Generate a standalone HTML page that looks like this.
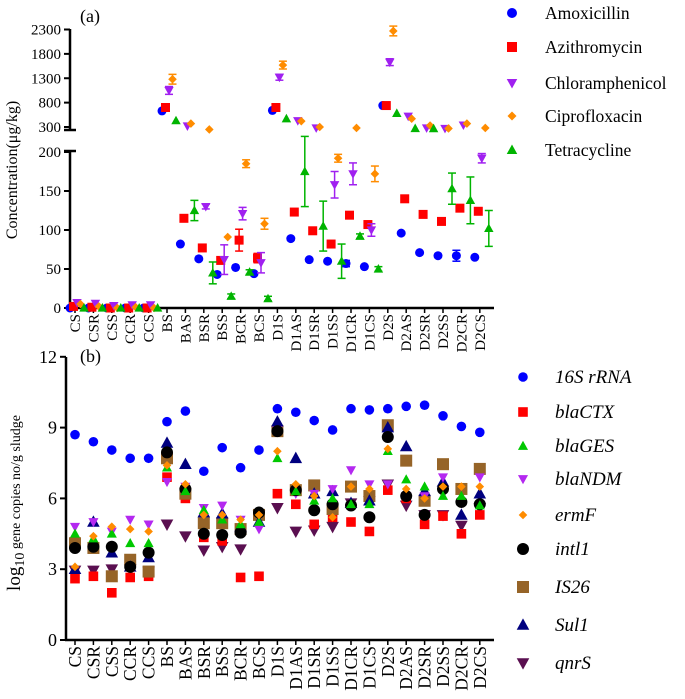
<!DOCTYPE html>
<html><head><meta charset="utf-8">
<style>
html,body{margin:0;padding:0;background:#fff;}
svg{display:block;font-family:"Liberation Serif",serif;}
</style></head>
<body>
<svg id="chart" width="685" height="699" viewBox="0 0 685 699" xmlns="http://www.w3.org/2000/svg"></svg>
<script>
const categories = ["CS","CSR","CSS","CCR","CCS","BS","BAS","BSR","BSS","BCR","BCS","D1S","D1AS","D1SR","D1SS","D1CR","D1CS","D2S","D2AS","D2SR","D2SS","D2CR","D2CS"];
// Panel (a) concentrations (ug/kg)
const amoxicillin = [0,0,0,0,0,630,82,63,43,52,44,640,89,62,60,57,53,740,96,71,67,67,65];
const azithromycin = [2,1,0,0,0,700,115,77,61,87,64,700,123,99,82,119,107,740,140,120,111,128,124];
const chloramphenicol = [7,6,3,4,4,1050,320,130,62,121,58,1320,430,280,158,172,100,1630,520,280,270,340,192];
const ciprofloxacin = [5,2,0,1,0,1280,370,250,91,185,108,1570,420,300,192,280,172,2270,470,330,270,370,280];
const tetracycline = [0,0,0,0,0,430,125,45,15,46,12,470,175,105,60,92,50,580,270,230,153,138,102];
const errChloramphenicol = [0,0,0,0,0,80,0,3,19,8,13,60,0,0,17,14,8,70,0,0,0,0,6];
const errTetracycline = [0,0,0,0,0,0,13,14,3,3,3,0,45,32,22,3,3,0,0,0,20,30,23];
const errAzithromycin = [0,0,0,0,0,0,0,0,0,14,6,0,0,0,0,0,0,0,0,0,0,0,0];
const errCiprofloxacin = [0,0,0,0,0,100,0,0,0,5,7,80,0,0,5,0,10,100,0,0,0,0,0];
const errAmoxicillin = [0,0,0,0,0,0,0,0,0,0,0,0,0,0,0,4,0,0,0,0,0,7,0];
const yTicksLower = [0,50,100,150,200];
const yTicksUpper = [300,800,1300,1800,2300];
// Panel (b) log10 gene copies
const s16S = [8.7,8.4,8.05,7.7,7.7,9.25,9.7,7.15,8.15,7.3,8.05,9.8,9.65,9.3,8.9,9.8,9.75,9.8,9.9,9.95,9.5,9.05,8.8];
const blaCTX = [2.6,2.7,2.0,2.65,2.7,6.9,6.0,4.35,4.2,2.65,2.7,6.2,5.75,4.9,5.2,5.0,4.6,6.35,6.0,4.9,5.25,4.5,5.3];
const blaGES = [4.5,4.3,4.5,4.1,4.1,7.3,6.3,5.5,5.1,4.9,5.0,7.7,6.3,5.9,6.0,5.75,5.75,8.0,6.8,6.5,6.1,6.1,5.7];
const blaNDM = [4.8,5.0,4.6,5.1,4.9,6.7,6.5,5.6,5.7,5.1,4.7,8.9,6.2,6.2,6.4,7.2,6.6,6.6,6.1,6.1,6.9,5.8,6.9];
const ermF = [3.1,4.4,4.8,4.7,4.6,7.4,6.6,5.3,5.3,5.1,5.3,8.0,6.6,6.1,5.2,6.5,6.4,8.1,6.4,6.0,6.5,6.5,6.5];
const qnrS = [2.95,2.95,3.0,3.0,2.9,4.9,4.4,3.8,3.95,3.85,5.3,5.6,4.6,4.65,4.8,5.8,5.9,6.6,5.7,5.3,5.3,4.85,5.6];
const IS26 = [4.1,3.9,2.7,3.4,2.9,7.7,6.2,4.95,4.95,4.7,5.3,8.85,6.35,6.55,5.55,6.5,6.1,9.1,7.6,5.9,7.45,6.4,7.25];
const sul1 = [3.0,5.0,3.7,3.1,3.5,8.35,7.45,5.4,5.35,4.8,5.0,9.25,7.7,6.2,6.3,5.8,5.9,9.0,8.2,6.3,6.7,5.3,6.2];
const intI1 = [3.9,3.95,3.95,3.1,3.7,7.95,6.4,4.5,4.45,4.55,5.4,8.85,6.35,5.5,5.75,5.7,5.2,8.6,6.1,5.3,6.4,5.85,5.75];
const yTicksB = [0,3,6,9,12];

const svg = document.getElementById('chart');
const NS = 'http://www.w3.org/2000/svg';
function mk(tag, attrs, parent){const e=document.createElementNS(NS,tag);for(const k in attrs)e.setAttribute(k,attrs[k]);(parent||svg).appendChild(e);return e;}
function xCat(i){return 75 + i*18.4;}
function yA(v){return v>=250 ? 127 - (v-300)*0.04875 : 308 - v*0.78;}
function yB(v){return 640 - v*23.6;}

function marker(shape, cx, cy, r, color, parent){
  let e;
  if(shape==='circle') e=mk('circle',{cx:cx,cy:cy,r:r,fill:color},parent);
  else if(shape==='square') e=mk('rect',{x:cx-r,y:cy-r,width:2*r,height:2*r,fill:color},parent);
  else if(shape==='up') e=mk('polygon',{points:`${cx},${cy-r*1.1} ${cx+r*1.05},${cy+r*0.8} ${cx-r*1.05},${cy+r*0.8}`,fill:color},parent);
  else if(shape==='down') e=mk('polygon',{points:`${cx},${cy+r*1.1} ${cx+r*1.05},${cy-r*0.8} ${cx-r*1.05},${cy-r*0.8}`,fill:color},parent);
  else if(shape==='diamond') e=mk('polygon',{points:`${cx},${cy-r} ${cx+r},${cy} ${cx},${cy+r} ${cx-r},${cy}`,fill:color},parent);
  return e;
}

// ---------- Panel A ----------
const gA = mk('g',{});


const axA = mk('g',{stroke:'#000','stroke-width':2.5,fill:'none'},gA);


mk('line',{x1:70,y1:308,x2:70,y2:151},axA);
mk('line',{x1:70,y1:130,x2:70,y2:29},axA);
mk('line',{x1:64,y1:151,x2:76,y2:151},axA);
mk('line',{x1:64,y1:130,x2:76,y2:130},axA);
mk('line',{x1:69,y1:308,x2:494,y2:308},axA);
yTicksLower.forEach(v=>{
  const y=yA(v);
  mk('line',{x1:64,y1:y,x2:70,y2:y,stroke:'#000','stroke-width':2},gA);
  const t=mk('text',{x:61,y:y+5,'text-anchor':'end','font-size':15},gA);t.textContent=v;
  
  
});
yTicksUpper.forEach(v=>{
  const y=yA(v);
  mk('line',{x1:64,y1:y,x2:70,y2:y,stroke:'#000','stroke-width':2},gA);
  const t=mk('text',{x:61,y:y+5,'text-anchor':'end','font-size':15},gA);t.textContent=v;
  
  
});
categories.forEach((c,i)=>{
  const x=xCat(i);
  mk('line',{x1:x,y1:308,x2:x,y2:313,stroke:'#000','stroke-width':1.5},gA);
  const t=mk('text',{x:0,y:0,'text-anchor':'end','font-size':15,transform:`translate(${x+5},${314}) rotate(-90)`},gA);
  t.textContent=c;
  
  
});
const ttlA=mk('text',{x:0,y:0,'text-anchor':'middle','font-size':16,transform:'translate(17,170) rotate(-90)'},gA);
ttlA.textContent='Concentration(μg/kg)';


const lblA=mk('text',{x:80,y:22,'font-size':18},gA);lblA.textContent='(a)';



const seriesA = [
  {name:'Amoxicillin',vals:amoxicillin,err:errAmoxicillin,color:'#0000ff',shape:'circle',off:-5},
  {name:'Azithromycin',vals:azithromycin,err:errAzithromycin,color:'#ff0000',shape:'square',off:-1.5},
  {name:'Chloramphenicol',vals:chloramphenicol,err:errChloramphenicol,color:'#a020f0',shape:'down',off:2},
  {name:'Ciprofloxacin',vals:ciprofloxacin,err:errCiprofloxacin,color:'#ff8c00',shape:'diamond',off:5.5},
  {name:'Tetracycline',vals:tetracycline,err:errTetracycline,color:'#00b400',shape:'up',off:9},
];
seriesA.forEach((s,si)=>{
  const g=mk('g',{},gA);
  
  
  s.vals.forEach((v,i)=>{
    const cx=xCat(i)+s.off, cy=yA(v);
    const e=s.err[i];
    if(e>0){
      const y1=yA(v+e), y2=yA(Math.max(0,v-e));
      mk('line',{x1:cx,y1:y1,x2:cx,y2:y2,stroke:s.color,'stroke-width':1.5},g);
      mk('line',{x1:cx-4,y1:y1,x2:cx+4,y2:y1,stroke:s.color,'stroke-width':1.5},g);
      mk('line',{x1:cx-4,y1:y2,x2:cx+4,y2:y2,stroke:s.color,'stroke-width':1.5},g);
    }
    const m=marker(s.shape,cx,cy,s.shape==='diamond'?4.3:4.5,s.color,g);
    
    
  });
  const ly=[13,47,83,116,150][si];
  const lg=mk('g',{},svg);
  
  
  marker(s.shape,512,ly,s.shape==='diamond'?4.5:5,s.color,lg);
  const t=mk('text',{x:545,y:ly+6,'font-size':17.5},lg);t.textContent=s.name;
});

// ---------- Panel B ----------
const gB = mk('g',{});


mk('line',{x1:66,y1:357,x2:66,y2:641,stroke:'#000','stroke-width':2.5},gB);
mk('line',{x1:65,y1:640,x2:494,y2:640,stroke:'#000','stroke-width':2.5},gB);
yTicksB.forEach(v=>{
  const y=yB(v);
  mk('line',{x1:60,y1:y,x2:66,y2:y,stroke:'#000','stroke-width':2},gB);
  const t=mk('text',{x:57,y:y+6,'text-anchor':'end','font-size':18},gB);t.textContent=v;
  
  
});
categories.forEach((c,i)=>{
  const x=xCat(i);
  mk('line',{x1:x,y1:640,x2:x,y2:645,stroke:'#000','stroke-width':1.5},gB);
  const t=mk('text',{x:0,y:0,'text-anchor':'end','font-size':17.5,transform:`translate(${x+6},${646}) rotate(-90)`},gB);
  t.textContent=c;
  
  
});
const ttlB=mk('text',{x:0,y:0,'text-anchor':'middle','font-size':14,transform:'translate(20,503) rotate(-90)'},gB);
ttlB.innerHTML='<tspan font-size="19">log</tspan><tspan font-size="14" dy="4">10</tspan><tspan dy="-4"> gene copies no/g sludge</tspan>';


const lblB=mk('text',{x:80,y:362,'font-size':18},gB);lblB.textContent='(b)';



const seriesB = [
  {name:'16S rRNA',vals:s16S,color:'#0000ff',shape:'circle',r:4.8},
  {name:'qnrS',vals:qnrS,color:'#5a0f50',shape:'down',r:6},
  {name:'blaCTX',vals:blaCTX,color:'#ff0000',shape:'square',r:4.8},
  {name:'IS26',vals:IS26,color:'#966428',shape:'square',r:6},
  {name:'Sul1',vals:sul1,color:'#00007f',shape:'up',r:6},
  {name:'blaNDM',vals:blaNDM,color:'#b428f0',shape:'down',r:4.8},
  {name:'intl1',vals:intI1,color:'#000000',shape:'circle',r:6},
  {name:'blaGES',vals:blaGES,color:'#00c800',shape:'up',r:4.8},
  {name:'ermF',vals:ermF,color:'#ff8c00',shape:'diamond',r:4.3},
];
const legendOrder=['16S rRNA','blaCTX','blaGES','blaNDM','ermF','intl1','IS26','Sul1','qnrS'];
const legendY=[377,412,446,479,515,549,587,625,663];
seriesB.forEach(s=>{
  const g=mk('g',{},gB);
  
  
  s.vals.forEach((v,i)=>{
    const m=marker(s.shape,xCat(i),yB(v),s.r,s.color,g);
    
    
  });
  const li=legendOrder.indexOf(s.name);
  const ly=legendY[li];
  const lg=mk('g',{},svg);
  
  
  marker(s.shape,523,ly,s.r,s.color,lg);
  const t=mk('text',{x:555,y:ly+6,'font-size':19,'font-style':'italic'},lg);t.textContent=s.name;
});
</script>
</body></html>
